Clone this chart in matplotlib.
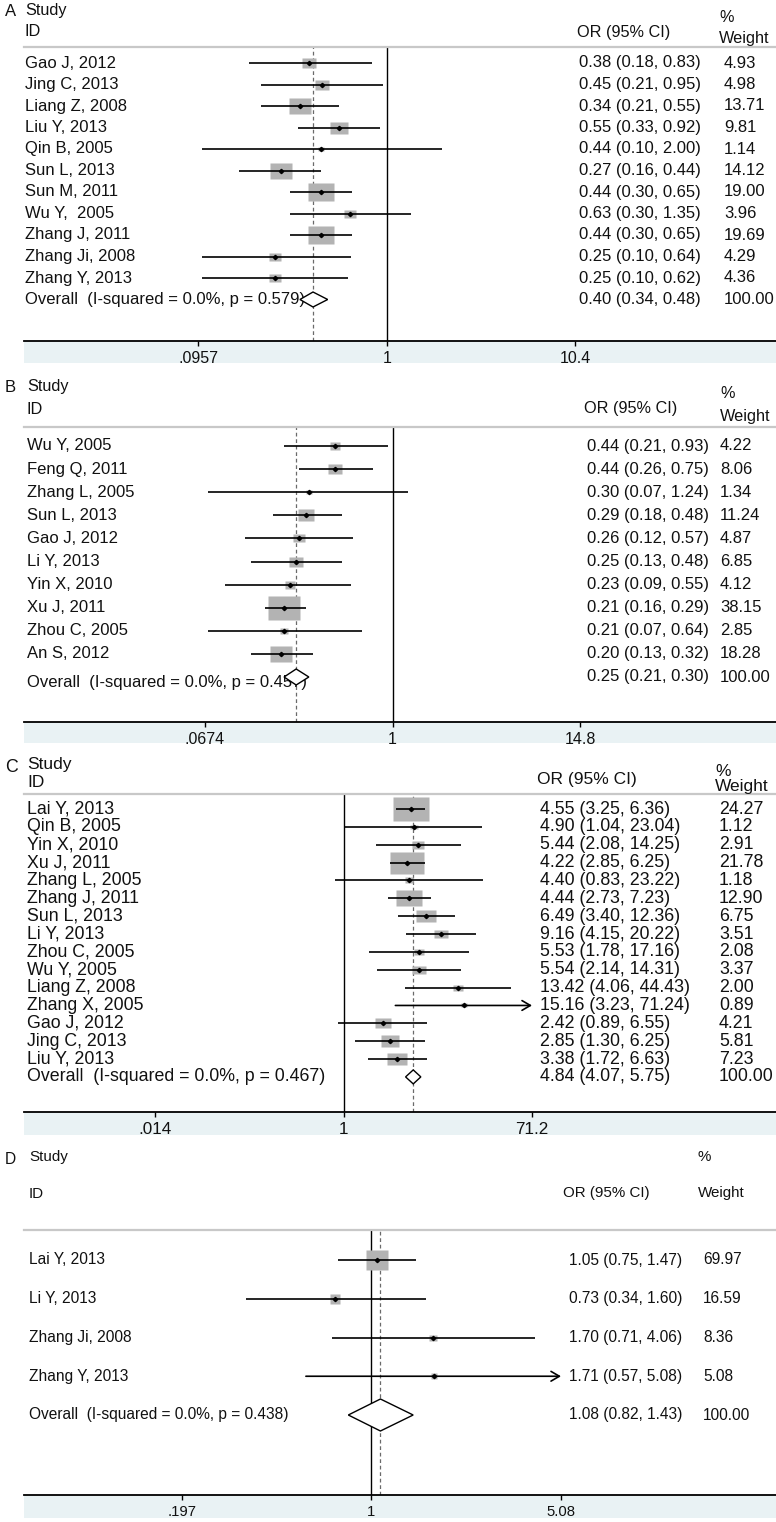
import numpy as np
import matplotlib
matplotlib.use("Agg")
import matplotlib.pyplot as plt
from matplotlib.patches import Polygon, Rectangle
from matplotlib.transforms import blended_transform_factory

plt.rcParams['font.family'] = ['Liberation Sans', 'DejaVu Sans']

# ---------------- data ----------------
a_study = ["Gao J, 2012", "Jing C, 2013", "Liang Z, 2008", "Liu Y, 2013", "Qin B, 2005",
           "Sun L, 2013", "Sun M, 2011", "Wu Y,  2005", "Zhang J, 2011", "Zhang Ji, 2008",
           "Zhang Y, 2013"]
a_or = [0.38, 0.45, 0.34, 0.55, 0.44, 0.27, 0.44, 0.63, 0.44, 0.25, 0.25]
a_lo = [0.18, 0.21, 0.21, 0.33, 0.10, 0.16, 0.30, 0.30, 0.30, 0.10, 0.10]
a_hi = [0.83, 0.95, 0.55, 0.92, 2.00, 0.44, 0.65, 1.35, 0.65, 0.64, 0.62]
a_w = [4.93, 4.98, 13.71, 9.81, 1.14, 14.12, 19.00, 3.96, 19.69, 4.29, 4.36]
a_overall = [0.40, 0.34, 0.48]
a_p = "0.579"
a_ticks = [0.0957, 1, 10.4]
a_ticklabels = [".0957", "1", "10.4"]

b_study = ["Wu Y, 2005", "Feng Q, 2011", "Zhang L, 2005", "Sun L, 2013", "Gao J, 2012",
           "Li Y, 2013", "Yin X, 2010", "Xu J, 2011", "Zhou C, 2005", "An S, 2012"]
b_or = [0.44, 0.44, 0.30, 0.29, 0.26, 0.25, 0.23, 0.21, 0.21, 0.20]
b_lo = [0.21, 0.26, 0.07, 0.18, 0.12, 0.13, 0.09, 0.16, 0.07, 0.13]
b_hi = [0.93, 0.75, 1.24, 0.48, 0.57, 0.48, 0.55, 0.29, 0.64, 0.32]
b_w = [4.22, 8.06, 1.34, 11.24, 4.87, 6.85, 4.12, 38.15, 2.85, 18.28]
b_overall = [0.25, 0.21, 0.30]
b_p = "0.457"
b_ticks = [0.0674, 1, 14.8]
b_ticklabels = [".0674", "1", "14.8"]

c_study = ["Lai Y, 2013", "Qin B, 2005", "Yin X, 2010", "Xu J, 2011", "Zhang L, 2005",
           "Zhang J, 2011", "Sun L, 2013", "Li Y, 2013", "Zhou C, 2005", "Wu Y, 2005",
           "Liang Z, 2008", "Zhang X, 2005", "Gao J, 2012", "Jing C, 2013", "Liu Y, 2013"]
c_or = [4.55, 4.90, 5.44, 4.22, 4.40, 4.44, 6.49, 9.16, 5.53, 5.54, 13.42, 15.16, 2.42, 2.85, 3.38]
c_lo = [3.25, 1.04, 2.08, 2.85, 0.83, 2.73, 3.40, 4.15, 1.78, 2.14, 4.06, 3.23, 0.89, 1.30, 1.72]
c_hi = [6.36, 23.04, 14.25, 6.25, 23.22, 7.23, 12.36, 20.22, 17.16, 14.31, 44.43, 71.24, 6.55, 6.25, 6.63]
c_w = [24.27, 1.12, 2.91, 21.78, 1.18, 12.90, 6.75, 3.51, 2.08, 3.37, 2.00, 0.89, 4.21, 5.81, 7.23]
c_overall = [4.84, 4.07, 5.75]
c_p = "0.467"
c_ticks = [0.014, 1, 71.2]
c_ticklabels = [".014", "1", "71.2"]

d_study = ["Lai Y, 2013", "Li Y, 2013", "Zhang Ji, 2008", "Zhang Y, 2013"]
d_or = [1.05, 0.73, 1.70, 1.71]
d_lo = [0.75, 0.34, 0.71, 0.57]
d_hi = [1.47, 1.60, 4.06, 5.08]
d_w = [69.97, 16.59, 8.36, 5.08]
d_overall = [1.08, 0.82, 1.43]
d_p = "0.438"
d_ticks = [0.197, 1, 5.08]
d_ticklabels = [".197", "1", "5.08"]

# ---------------- layout (pixels) ----------------
W, H = 776, 1522
fig = plt.figure(figsize=(W / 100, H / 100), dpi=100)
fig.patch.set_facecolor('white')

panels = [
    dict(letter="A", study=a_study, orv=a_or, lo=a_lo, hi=a_hi, w=a_w, ov=a_overall, p=a_p,
         ticks=a_ticks, tl=a_ticklabels,
         sep=47, row0=63, dy=21.5, axis=341, band=363,
         study_y=10, id_y=32, orh_y=32, pct_y=17, wt_y=38,
         lab_x=25, or_x=579, orh_x=577, w_x=724, wh_x=719, tick_px=(198, 575),
         fs=12, box=(5.96, 4.13), dh=7.5, ov_dy=0),
    dict(letter="B", study=b_study, orv=b_or, lo=b_lo, hi=b_hi, w=b_w, ov=b_overall, p=b_p,
         ticks=b_ticks, tl=b_ticklabels,
         sep=427, row0=446, dy=23.1, axis=722, band=743,
         study_y=386, id_y=409, orh_y=409, pct_y=393, wt_y=417,
         lab_x=27, or_x=587, orh_x=584, w_x=720, wh_x=720, tick_px=(205, 580),
         fs=12, box=(5.02, 3.77), dh=8, ov_dy=6),
    dict(letter="C", study=c_study, orv=c_or, lo=c_lo, hi=c_hi, w=c_w, ov=c_overall, p=c_p,
         ticks=c_ticks, tl=c_ticklabels,
         sep=794, row0=809, dy=17.86, axis=1112, band=1135,
         study_y=765, id_y=783, orh_y=779, pct_y=772, wt_y=787,
         lab_x=27, or_x=540, orh_x=537, w_x=719, wh_x=715, tick_px=(155, 532),
         fs=12.8, box=(7.4, 4.7), dh=7, ov_dy=0),
    dict(letter="D", study=d_study, orv=d_or, lo=d_lo, hi=d_hi, w=d_w, ov=d_overall, p=d_p,
         ticks=d_ticks, tl=d_ticklabels,
         sep=1230, row0=1260, dy=38.75, axis=1495, band=1518,
         study_y=1157, id_y=1194, orh_y=1193, pct_y=1157, wt_y=1193,
         lab_x=29, or_x=569, orh_x=563, w_x=703, wh_x=698, tick_px=(182, 561),
         fs=11.2, box=(2.6, 2.3), dh=16, ov_dy=0),
]

X0, X1 = 24, 776
TEXT = '#111111'
BOXC = '#b3b3b3'
BAND = '#e9f2f4'


def fx(x):
    return x / W


def fy(y):
    return 1 - y / H


for P in panels:
    n = len(P['study'])
    dy = P['dy']
    ax = fig.add_axes([fx(X0), fy(P['axis']), fx(X1) - fx(X0), (P['axis'] - P['sep']) / H])
    ax.set_xscale('log')
    tlo, thi = P['ticks'][0], P['ticks'][2]
    xl, xh = P['tick_px']
    k = (xh - xl) / (np.log10(thi) - np.log10(tlo))
    vmin = 10 ** (np.log10(tlo) + (X0 - xl) / k)
    vmax = 10 ** (np.log10(tlo) + (X1 - xl) / k)
    ax.set_xlim(vmin, vmax)
    ax.set_ylim((P['axis'] - P['row0']) / dy, (P['sep'] - P['row0']) / dy)
    ax.set_yticks([])
    ax.minorticks_off()
    ax.set_xticks(P['ticks'])
    ax.set_xticklabels(P['tl'], fontsize=P['fs'] - 0.5, color=TEXT)
    ax.tick_params(axis='x', which='major', direction='out', length=3.5, width=1, pad=3.5)
    ax.tick_params(axis='x', which='minor', length=0)
    for s in ['left', 'right']:
        ax.spines[s].set_visible(False)
    ax.spines['top'].set_color('#c8c8c8')
    ax.spines['top'].set_linewidth(1.6)
    ax.spines['bottom'].set_color('black')
    ax.spines['bottom'].set_linewidth(1.3)

    fig.patches.append(Rectangle((fx(X0), fy(P['band'])), fx(X1) - fx(X0),
                                 (P['band'] - P['axis']) / H, transform=fig.transFigure,
                                 facecolor=BAND, edgecolor='none', zorder=-5))

    ax.axvline(1, color='black', lw=1.0, zorder=2)
    ax.axvline(P['ov'][0], color='#6a6a6a', lw=0.9, ls=(0, (3, 2.2)), zorder=2)

    rows = np.arange(n)
    tr = blended_transform_factory(fig.transFigure, ax.transData)
    ar = P['box'][0] / P['box'][1]
    rect = [(-ar, -1), (ar, -1), (ar, 1), (-ar, 1), (-ar, -1)]
    for i in rows:
        o, lo, hi, w = P['orv'][i], P['lo'][i], P['hi'][i], P['w'][i]
        bw = P['box'][0] * np.sqrt(w)
        ms = bw / (100 / 72)
        ax.plot([o], [i], marker=rect, ms=ms, color=BOXC, mec='none', zorder=3, ls='none')
        if hi >= thi:
            ax.annotate('', xy=(thi, i), xytext=(lo, i),
                        arrowprops=dict(arrowstyle='->,head_length=0.6,head_width=0.35',
                                        lw=1.2, color='black', shrinkA=0, shrinkB=0),
                        zorder=4)
        else:
            ax.plot([lo, hi], [i, i], color='black', lw=1.2, zorder=4, solid_capstyle='butt')
        ax.plot([o], [i], marker='D', ms=2.2, color='black', zorder=5, ls='none')
        ax.text(fx(P['lab_x']), i, P['study'][i], transform=tr, fontsize=P['fs'],
                va='center', ha='left', color=TEXT)
        ax.text(fx(P['or_x']), i, f"{o:.2f} ({lo:.2f}, {hi:.2f})", transform=tr,
                fontsize=P['fs'], va='center', ha='left', color=TEXT, clip_on=False)
        ax.text(fx(P['w_x']), i, f"{w:.2f}", transform=tr, fontsize=P['fs'],
                va='center', ha='left', color=TEXT, clip_on=False)

    yo = n
    o, lo, hi = P['ov']
    hh = P['dh'] / dy
    ax.add_patch(Polygon([(lo, yo), (o, yo - hh), (hi, yo), (o, yo + hh)], closed=True,
                         facecolor='white', edgecolor='black', lw=1.0, zorder=6))
    ax.text(fx(P['lab_x']), yo + P['ov_dy'] / dy,
            f"Overall  (I-squared = 0.0%, p = {P['p']})", transform=tr,
            fontsize=P['fs'], va='center', ha='left', color=TEXT, zorder=5)
    ax.text(fx(P['or_x']), yo, f"{o:.2f} ({lo:.2f}, {hi:.2f})", transform=tr,
            fontsize=P['fs'], va='center', ha='left', color=TEXT)
    ax.text(fx(P['w_x']), yo, "100.00", transform=tr, fontsize=P['fs'],
            va='center', ha='left', color=TEXT)

    fig.text(fx(5), fy(P['study_y'] + 2), P['letter'], fontsize=P['fs'], va='center',
             ha='left', color=TEXT, family=['Liberation Sans Narrow', 'Liberation Sans'])
    fig.text(fx(P['lab_x']), fy(P['study_y']), "Study", fontsize=P['fs'] - 0.3,
             va='center', ha='left', color=TEXT)
    fig.text(fx(P['lab_x']), fy(P['id_y']), "ID", fontsize=P['fs'] - 0.3,
             va='center', ha='left', color=TEXT)
    fig.text(fx(P['orh_x']), fy(P['orh_y']), "OR (95% CI)", fontsize=P['fs'] - 0.3,
             va='center', ha='left', color=TEXT)
    fig.text(fx(P['wh_x']), fy(P['pct_y']), "%", fontsize=P['fs'] - 0.3,
             va='center', ha='left', color=TEXT)
    fig.text(fx(P['wh_x']), fy(P['wt_y']), "Weight", fontsize=P['fs'] - 0.3,
             va='center', ha='left', color=TEXT)

fig.savefig("out.png", dpi=100, facecolor='white')
